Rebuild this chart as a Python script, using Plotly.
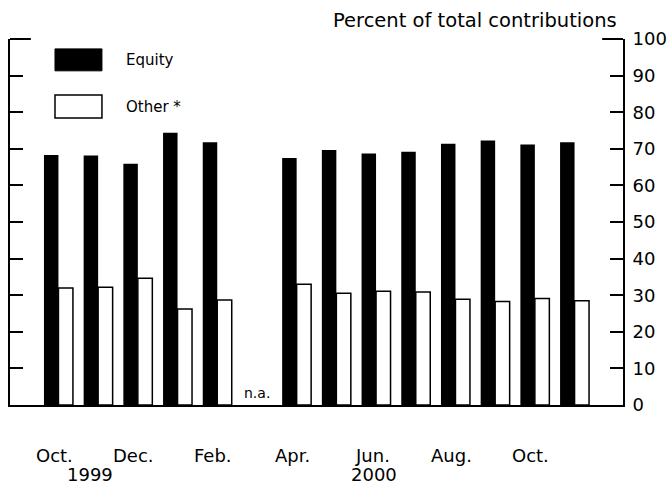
import plotly.graph_objects as go

# months, Oct 1999 .. Nov 2000 (Mar 2000 not available)
months = ["Oct 1999", "Nov 1999", "Dec 1999", "Jan 2000", "Feb 2000", "Mar 2000", "Apr 2000",
          "May 2000", "Jun 2000", "Jul 2000", "Aug 2000", "Sep 2000", "Oct 2000", "Nov 2000"]
equity = [68.3, 68.2, 65.9, 74.4, 71.8, None, 67.5, 69.7, 68.7, 69.2, 71.4, 72.3, 71.2, 71.8]
other = [32.0, 32.2, 34.6, 26.2, 28.7, None, 33.0, 30.5, 31.1, 30.9, 28.9, 28.3, 29.1, 28.5]

tick_months = ["Oct 1999", "Dec 1999", "Feb 2000", "Apr 2000", "Jun 2000", "Aug 2000", "Oct 2000"]
tick_text = ["Oct.", "Dec.", "Feb.", "Apr.", "Jun.", "Aug.", "Oct."]
year_months = ["Nov 1999", "Jun 2000"]
year_text = ["1999", "2000"]
na_month = "Mar 2000"

FONT = "DejaVu Sans"

fig = go.Figure()
fig.add_trace(go.Bar(x=months, y=equity, name="Equity",
                     marker=dict(color="black", line=dict(color="black", width=0))))
fig.add_trace(go.Bar(x=months, y=other, name="Other *",
                     marker=dict(color="white", line=dict(color="black", width=1.5))))

annotations = []
for m, t in zip(tick_months, tick_text):
    annotations.append(dict(x=m, y=0, xref="x", yref="y", text=t, showarrow=False,
                            yanchor="middle", yshift=-50, xshift=-4,
                            font=dict(family=FONT, size=18, color="black")))
for m, t, dx in zip(year_months, year_text, [-8, -2]):
    annotations.append(dict(x=m, y=0, xref="x", yref="y", text=t, showarrow=False,
                            yanchor="middle", yshift=-69, xshift=dx,
                            font=dict(family=FONT, size=18, color="black")))
annotations.append(dict(x=na_month, y=0, xref="x", yref="y", text="n.a.", showarrow=False,
                        yanchor="bottom", yshift=2,
                        font=dict(family=FONT, size=14, color="black")))
annotations.append(dict(x=1.0, y=1, xref="paper", yref="paper", text="Percent of total contributions",
                        showarrow=False, xanchor="right", yanchor="middle", yshift=19, xshift=-4,
                        font=dict(family=FONT, size=19.5, color="black")))
# legend labels
annotations.append(dict(x=0.186, y=0.943, xref="paper", yref="paper", text="Equity",
                        showarrow=False, xanchor="left", yanchor="middle",
                        font=dict(family=FONT, size=15, color="black")))
annotations.append(dict(x=0.186, y=0.814, xref="paper", yref="paper", text="Other *",
                        showarrow=False, xanchor="left", yanchor="middle",
                        font=dict(family=FONT, size=15, color="black")))

shapes = [
    dict(type="rect", xref="paper", yref="paper", x0=0.0734, x1=0.150, y0=0.913, y1=0.973,
         fillcolor="black", line=dict(color="black", width=1)),
    dict(type="rect", xref="paper", yref="paper", x0=0.0734, x1=0.150, y0=0.784, y1=0.847,
         fillcolor="white", line=dict(color="black", width=1.5)),
    # longer top ticks
    dict(type="line", xref="paper", yref="paper", x0=0, x1=0.034, y0=1, y1=1,
         line=dict(color="black", width=2)),
    dict(type="line", xref="paper", yref="paper", x0=0.966, x1=1, y0=1, y1=1,
         line=dict(color="black", width=2)),
]

fig.update_layout(
    width=669, height=484,
    margin=dict(l=10, r=46, t=39, b=79, autoexpand=False),
    paper_bgcolor="white", plot_bgcolor="white",
    barmode="group", bargap=0.27, bargroupgap=0,
    showlegend=False,
    font=dict(family=FONT, size=18, color="black"),
    annotations=annotations,
    shapes=shapes,
)
fig.update_xaxes(type="category", range=[-1.22, 14.22], showticklabels=False, ticks="",
                 showline=True, linecolor="black", linewidth=2, showgrid=False, zeroline=False,
                 automargin=False)
fig.update_yaxes(side="right", range=[0, 100], dtick=10, tick0=0, ticks="inside", ticklen=13,
                 tickwidth=2, tickcolor="black", showline=True, linecolor="black", linewidth=2,
                 mirror="ticks", showgrid=False, zeroline=False, automargin=False,
                 ticklabelstandoff=4,
                 tickfont=dict(family=FONT, size=18, color="black"))

fig.write_html("out.html", config={"displayModeBar": False},
               post_script="document.body.style.margin='0';")
